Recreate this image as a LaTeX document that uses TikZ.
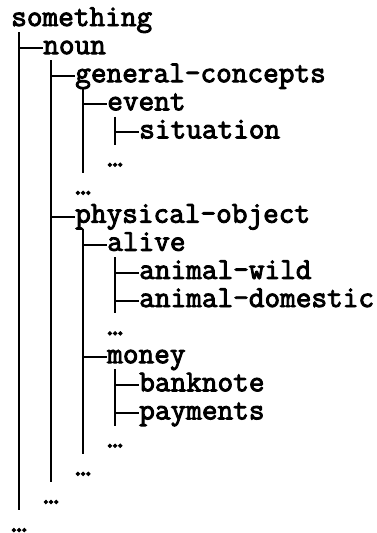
\documentclass[tikz,border=0pt]{standalone}
\usepackage{fontspec}
\newfontfamily\treefont{Latin Modern Mono}[FakeBold=3]
\begin{document}
\begin{tikzpicture}[x=0.75pt,y=-0.75pt,
	item/.style={anchor=west, inner sep=0pt, text height=13.5pt, text depth=4.5pt,
		font=\fontsize{22.8}{24}\selectfont\treefont},
	trunk/.style={line width=2.1pt},
	branch/.style={line width=1.6pt}]
\useasboundingbox (0,0) rectangle (377,533);

% rows: name/level/row/text
\foreach \n/\l/\r/\t in {something/0/0/something, noun/1/1/noun,
	gencon/2/2/general-concepts, event/3/3/event, situation/4/4/situation,
	dotsA/3/5/…, dotsB/2/6/…, physobj/2/7/physical-object, alive/3/8/alive,
	wild/4/9/animal-wild, domestic/4/10/animal-domestic, dotsC/3/11/…,
	money/3/12/money, banknote/4/13/banknote, payments/4/14/payments,
	dotsD/3/15/…, dotsE/2/16/…, dotsF/1/17/…, dotsG/0/18/…} {
	\node[item] (\n) at (11+32*\l, 20+28.1*\r) {\t};
}

% vertical lines
\foreach \p/\e in {something/dotsF, noun/dotsE, gencon/dotsA, event/situation,
	physobj/dotsD, alive/domestic, money/payments} {
	\coordinate (\p-l) at ([xshift=6pt]\p.south west);
	\draw[trunk] (\p-l) -- (\p-l |- \e.south);
}

% branches
\foreach \p/\c in {something/noun, noun/gencon, noun/physobj, gencon/event,
	event/situation, physobj/alive, physobj/money, alive/wild, alive/domestic,
	money/banknote, money/payments} {
	\draw[branch] (\p-l |- \c.west) -- (\c.west);
}

\end{tikzpicture}
\end{document}
